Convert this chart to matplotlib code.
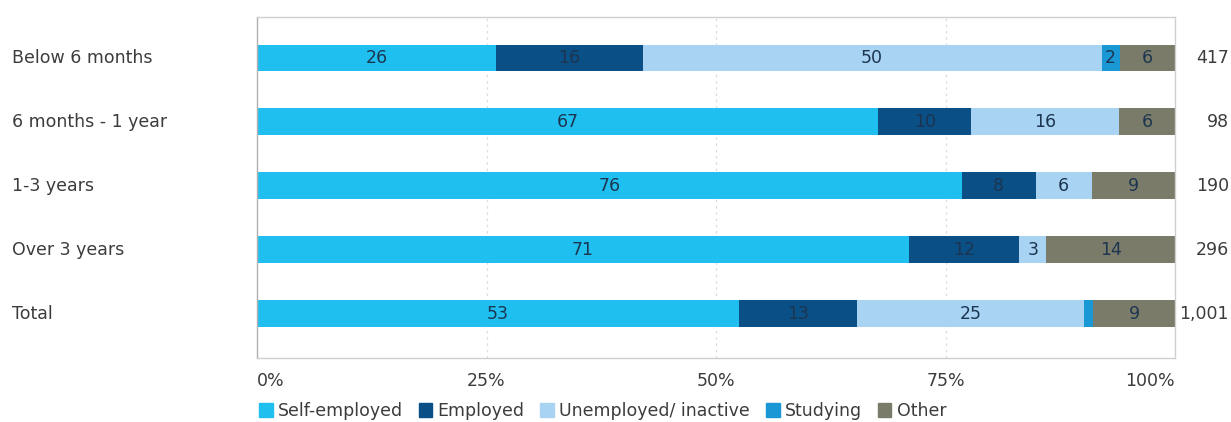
import numpy as np
import matplotlib.pyplot as plt

plt.rcParams['font.family'] = ['DejaVu Sans']

groups = ['Below 6 months', '6 months - 1 year', '1-3 years', 'Over 3 years', 'Total']
series = ['Self-employed', 'Employed', 'Unemployed/ inactive', 'Studying', 'Other']
self_employed = [26, 67, 76, 71, 53]
employed = [16, 10, 8, 12, 13]
unemployed = [50, 16, 6, 3, 25]
studying = [2, 0, 0, 0, 1]
other = [6, 6, 9, 14, 9]
totals = ['417', '98', '190', '296', '1,001']

colors = ['#1fbff0', '#0a4f86', '#a9d3f3', '#1a98d5', '#7b7b69']
text_col = '#1c3550'
grey_txt = '#3c3c3c'
fs = 12.5

values = np.array([self_employed, employed, unemployed, studying, other], dtype=float)
# rounded shares don't always add to 100, scale each row so the bars fill the axis
shares = values / values.sum(axis=0) * 100

fig = plt.figure(figsize=(12.31, 4.22), dpi=100)
ax = fig.add_axes([257 / 1231, 1 - 358 / 422, 918 / 1231, 341 / 422])

y = np.arange(len(groups))
left = np.zeros(len(groups))
for i, name in enumerate(series):
    ax.barh(y, shares[i], left=left, height=0.42, color=colors[i], zorder=2)
    for j in range(len(groups)):
        if values[i, j] >= 2:
            ax.text(left[j] + shares[i, j] / 2, y[j], '%d' % values[i, j],
                    ha='center', va='center', fontsize=fs, color=text_col, zorder=3)
    left += shares[i]

ax.set_xlim(0, 100)
ax.set_ylim(len(groups) - 1 + 0.69, -0.64)
ax.set_yticks([])
ax.set_xticks([25, 50, 75])
ax.set_xticklabels([])
ax.tick_params(axis='x', length=0)
ax.grid(axis='x', linestyle=(0, (2, 3)), color='#dcdcdc', linewidth=0.9, zorder=0)
for s in ax.spines.values():
    s.set_color('#cfcfcf')
    s.set_linewidth(1.0)
ax.spines['left'].set_color('#b0b0b0')

# tick labels under the axis
for v, lab, ha in [(0, '0%', 'left'), (25, '25%', 'center'), (50, '50%', 'center'),
                   (75, '75%', 'center'), (100, '100%', 'right')]:
    ax.text(v, -0.04, lab, transform=ax.get_xaxis_transform(), ha=ha, va='top',
            fontsize=fs, color=grey_txt)

# category names and sample sizes
for j, g in enumerate(groups):
    yf = 1 - (58 + 64 * j) / 422
    fig.text(12 / 1231, yf, g, ha='left', va='center', fontsize=fs, color=grey_txt)
    fig.text(1229 / 1231, yf, totals[j], ha='right', va='center', fontsize=fs, color=grey_txt)

handles = [plt.Rectangle((0, 0), 1, 1, color=c) for c in colors]
fig.legend(handles, series, loc='center left', bbox_to_anchor=(250 / 1231, 1 - 411 / 422),
           ncol=5, frameon=False, fontsize=fs, handlelength=0.8, handleheight=0.8,
           handletextpad=0.3, columnspacing=0.9, borderpad=0, labelcolor=grey_txt)

fig.savefig('out.png', dpi=100)
